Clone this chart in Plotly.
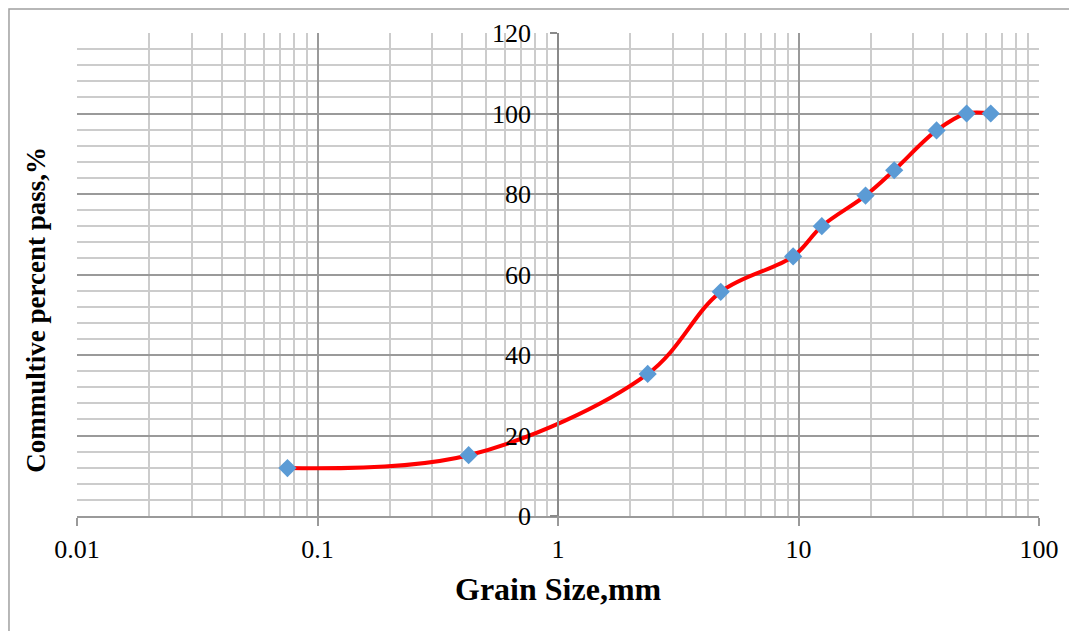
import plotly.graph_objects as go

# Data
grain_size_mm = [0.075, 0.425, 2.36, 4.75, 9.5, 12.5, 19, 25, 37.5, 50, 63]
percent_pass = [11.9, 15.1, 35.3, 55.7, 64.5, 72.0, 79.6, 85.9, 95.8, 100, 100]

x_tick_vals = [0.01, 0.1, 1, 10, 100]
x_tick_text = ["0.01", "0.1", "1", "10", "100"]
y_tick_vals = [0, 20, 40, 60, 80, 100, 120]

x_minor_vals = [m * d for d in [0.01, 0.1, 1, 10] for m in range(2, 10)]

FONT = "Liberation Serif"
MAJOR = "#9a9a9a"
MINOR = "#cccccc"

fig = go.Figure()
fig.add_trace(go.Scatter(
    x=grain_size_mm, y=percent_pass,
    mode="lines+markers",
    line=dict(color="#ff0000", width=4, shape="spline", smoothing=1),
    marker=dict(symbol="diamond", size=14, color="#5b9bd5"),
    showlegend=False,
))

fig.update_layout(
    width=1061, height=623,
    margin=dict(l=69, r=30, t=25, b=114.5, autoexpand=False),
    paper_bgcolor="white", plot_bgcolor="white",
    font=dict(family=FONT, size=26, color="black"),
    xaxis=dict(
        type="log", range=[-2, 2],
        tickvals=x_tick_vals, ticktext=x_tick_text,
        showgrid=True, gridcolor=MAJOR, gridwidth=1.5,
        ticks="outside", ticklen=8, tickcolor=MAJOR, tickwidth=1.5,
        ticklabelstandoff=1,
        showline=True, linecolor=MAJOR, linewidth=1.5,
        zeroline=False,
        minor=dict(tickvals=x_minor_vals, showgrid=True, gridcolor=MINOR, gridwidth=1.5, ticks=""),
        tickfont=dict(family=FONT, size=26, color="black"),
    ),
    yaxis=dict(
        range=[0, 120],
        tickvals=y_tick_vals,
        anchor="free", position=0.5,
        showgrid=True, gridcolor=MAJOR, gridwidth=1.5,
        ticks="outside", ticklen=7, tickcolor="#8a8a8a", tickwidth=1.5,
        ticklabelstandoff=14,
        showline=True, linecolor="#8a8a8a", linewidth=1.5,
        zeroline=False,
        minor=dict(dtick=4, showgrid=True, gridcolor=MINOR, gridwidth=1.5, ticks=""),
        tickfont=dict(family=FONT, size=26, color="black"),
    ),
    annotations=[
        dict(text="<b>Grain Size,mm</b>", xref="paper", yref="paper",
             x=0.5, y=-0.152, xanchor="center", yanchor="middle", showarrow=False,
             font=dict(family=FONT, size=32, color="black")),
        dict(text="<b>Commultive percent pass,%</b>", xref="paper", yref="paper",
             x=-0.0426, y=0.427, xanchor="center", yanchor="middle", showarrow=False,
             textangle=-90, font=dict(family=FONT, size=27, color="black")),
    ],
    shapes=[
        dict(type="rect", xref="paper", yref="paper",
             x0=-0.0707, y0=-0.4, x1=1.2, y1=1.0496,
             line=dict(color="#a0a0a0", width=1.5), layer="below"),
    ],
)

fig.write_html("out.html")
